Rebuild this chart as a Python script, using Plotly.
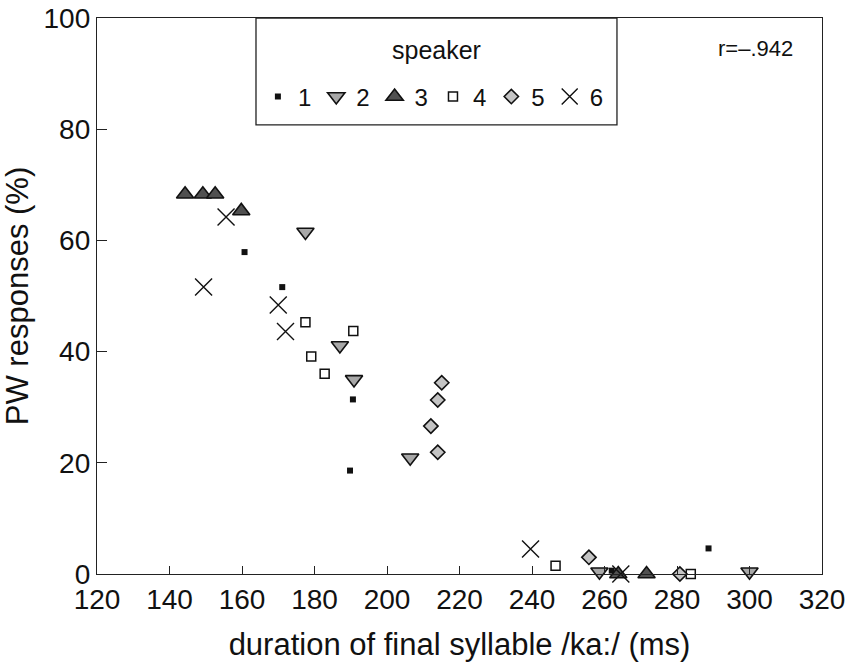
import plotly.graph_objects as go

# speaker data: duration (ms) and PW responses (%)
s1_x = [160.7, 171.1, 190.6, 189.8, 262.0, 288.7]
s1_y = [57.9, 51.6, 31.4, 18.6, 0.6, 4.6]
s2_x = [177.5, 187.0, 190.9, 206.4, 258.6, 300.0]
s2_y = [61.5, 41.1, 35.0, 20.9, 0.4, 0.4]
s3_x = [144.3, 149.2, 152.6, 159.8, 263.8, 271.6]
s3_y = [68.3, 68.3, 68.3, 65.3, 0.0, 0.0]
s4_x = [177.5, 190.7, 179.1, 182.8, 246.5, 283.8]
s4_y = [45.3, 43.7, 39.1, 36.0, 1.5, 0.0]
s5_x = [215.1, 214.0, 212.1, 214.0, 255.7, 280.8]
s5_y = [34.4, 31.3, 26.6, 21.9, 3.0, 0.0]
s6_x = [155.6, 149.4, 170.0, 172.0, 239.6, 264.5]
s6_y = [64.2, 51.6, 48.4, 43.6, 4.5, 0.0]

speakers = ["1", "2", "3", "4", "5", "6"]
xs = [s1_x, s2_x, s3_x, s4_x, s5_x, s6_x]
ys = [s1_y, s2_y, s3_y, s4_y, s5_y, s6_y]

x_ticks = [120, 140, 160, 180, 200, 220, 240, 260, 280, 300, 320]
y_ticks = [0, 20, 40, 60, 80, 100]

styles = [
    dict(symbol="square", size=6, color="#111111", line=dict(color="#111111", width=0)),
    dict(symbol="triangle-down", size=15, color="#a8a8a8", line=dict(color="#111111", width=1.6)),
    dict(symbol="triangle-up", size=15, color="#505050", line=dict(color="#111111", width=1.6)),
    dict(symbol="square", size=9, color="#ffffff", line=dict(color="#111111", width=1.5)),
    dict(symbol="diamond", size=11, color="#c4c4c4", line=dict(color="#111111", width=1.6)),
    dict(symbol="x-thin", size=17, color="#111111", line=dict(color="#111111", width=1.4)),
]

FONT = "Liberation Sans, Arial, sans-serif"

fig = go.Figure()
for name, x, y, st in zip(speakers, xs, ys, styles):
    fig.add_trace(go.Scatter(x=x, y=y, mode="markers", name=name,
                             marker=st, cliponaxis=False))

# legend frame
fig.add_shape(type="rect", xref="paper", yref="paper",
              x0=0.2193, x1=0.7172, y0=0.8076, y1=1.0,
              line=dict(color="#222222", width=1.3), fillcolor="white", layer="below")

fig.add_annotation(text="speaker", xref="paper", yref="paper",
                   x=0.468, y=0.9424, xanchor="center", yanchor="middle", showarrow=False,
                   font=dict(family=FONT, size=25, color="#111111"))

fig.add_annotation(text="r=\u2013.942", xref="paper", yref="paper",
                   x=0.9076, y=0.946, xanchor="center", yanchor="middle", showarrow=False,
                   font=dict(family=FONT, size=22, color="#111111"))

fig.update_layout(
    width=852, height=667,
    margin=dict(l=97, r=30, t=18, b=93, autoexpand=False),
    paper_bgcolor="white", plot_bgcolor="white",
    font=dict(family=FONT, color="#111111"),
    showlegend=True,
    legend=dict(orientation="h", x=0.464, xanchor="center", y=0.858, yanchor="middle",
                bgcolor="rgba(0,0,0,0)", borderwidth=0,
                font=dict(family=FONT, size=24), itemwidth=30),
    xaxis=dict(range=[120, 320], tickvals=x_ticks,
               ticks="inside", ticklen=8, tickwidth=1.3, tickcolor="#222222",
               showline=True, linecolor="#222222", linewidth=1.3, mirror=True,
               showgrid=False, zeroline=False, automargin=False,
               tickfont=dict(family=FONT, size=28), ticklabelstandoff=0,
               title=dict(text="duration of final syllable /ka:/ (ms)", standoff=19,
                          font=dict(family=FONT, size=31))),
    yaxis=dict(range=[0, 100], tickvals=y_ticks,
               ticks="inside", ticklen=10, tickwidth=1.3, tickcolor="#222222",
               showline=True, linecolor="#222222", linewidth=1.3, mirror=True,
               showgrid=False, zeroline=False, automargin=False,
               tickfont=dict(family=FONT, size=28),
               title=dict(text="PW responses (%)", standoff=12,
                          font=dict(family=FONT, size=31))),
)

fig.write_html("out.html")
